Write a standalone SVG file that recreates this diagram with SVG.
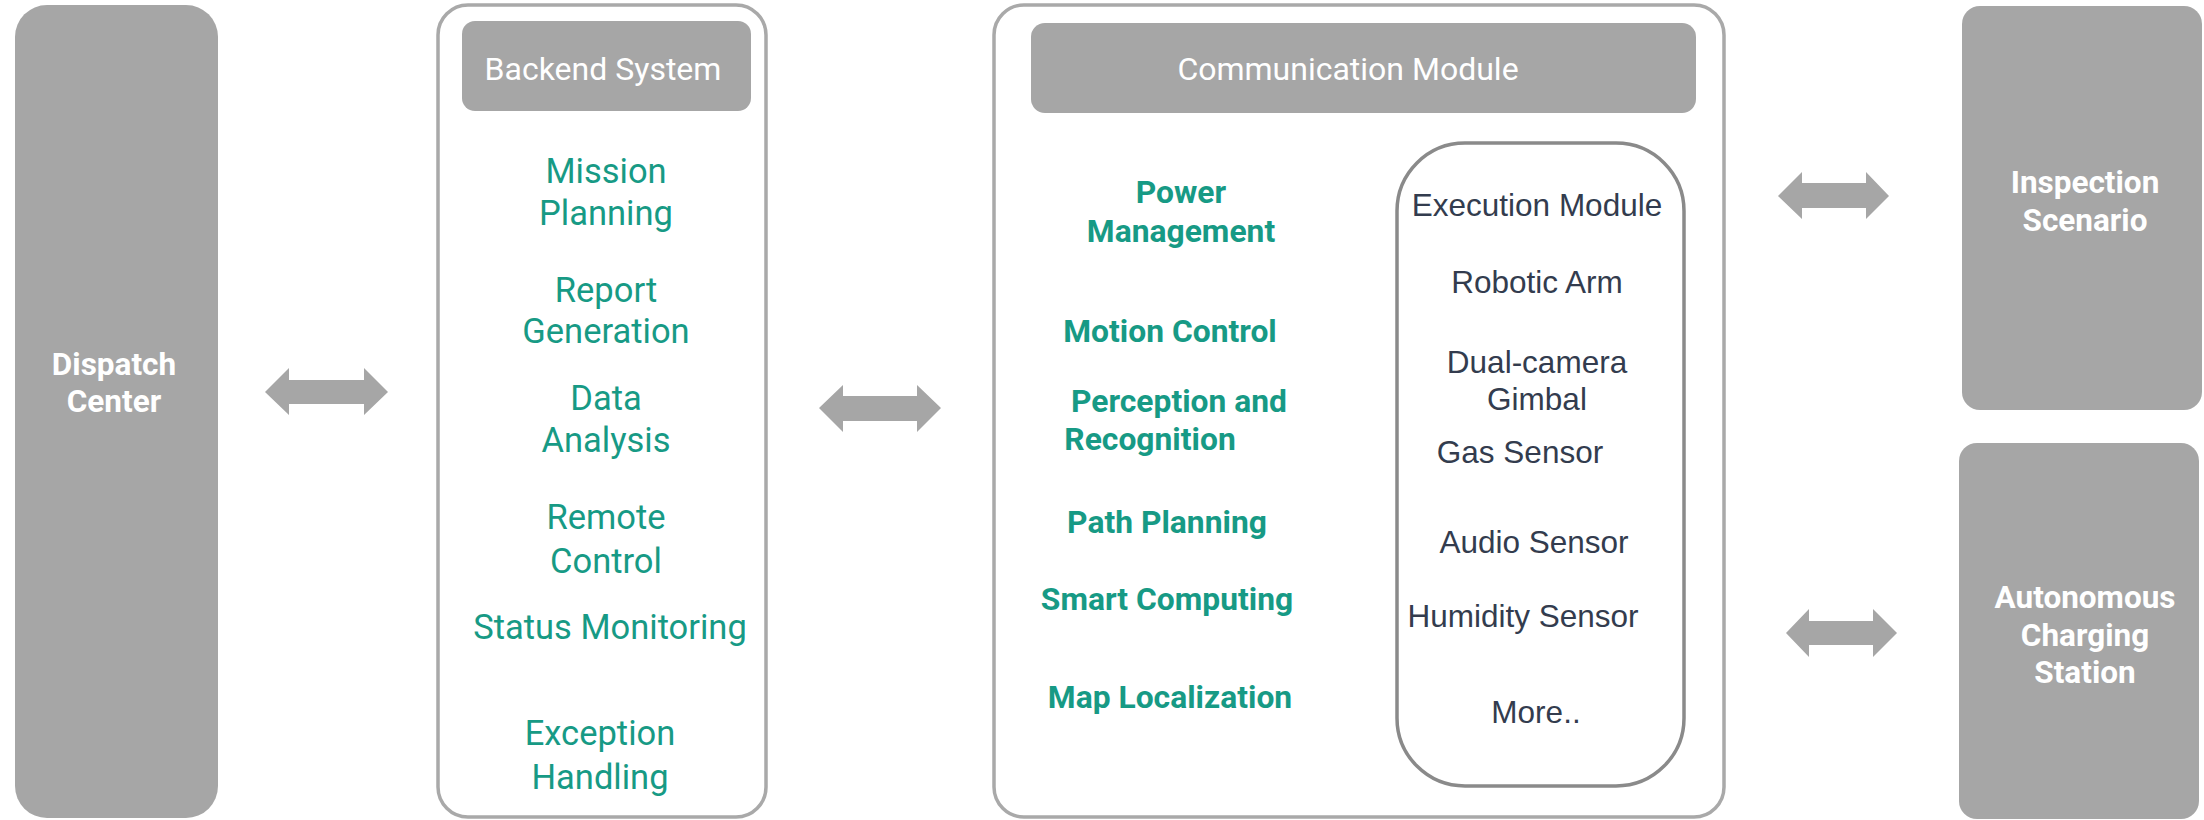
<svg xmlns="http://www.w3.org/2000/svg" width="2204" height="820" viewBox="0 0 2204 820">
<style>
.solid{fill:#a6a6a6}
.frame{fill:#fff;stroke:#a9a9a9;stroke-width:3.5}
.inner{fill:#fff;stroke:#8a8a8a;stroke-width:3.5}
.wb{font-family:Roboto,"Liberation Sans",sans-serif;font-weight:bold;font-size:31.5px;fill:#fff;text-anchor:middle}
.wr{font-family:Roboto,"Liberation Sans",sans-serif;font-size:32px;fill:#fff;text-anchor:middle}
.gr{font-family:Roboto,"Liberation Sans",sans-serif;font-size:34.5px;fill:#179a85;text-anchor:middle}
.gb{font-family:Roboto,"Liberation Sans",sans-serif;font-weight:bold;font-size:31.8px;fill:#179a85;text-anchor:middle}
.dk{font-family:"Liberation Sans",Arial,sans-serif;font-size:31.5px;fill:#333c4e;text-anchor:middle}
.arr{fill:#a6a6a6}
</style>
<rect width="2204" height="820" fill="#fff"/>

<g id="dispatch-center">
<rect class="solid" x="15" y="5" width="203" height="813" rx="32"/>
<text class="wb" x="114" y="375">Dispatch</text>
<text class="wb" x="114" y="412">Center</text>
</g>

<g id="backend-system">
<rect class="frame" x="438" y="5" width="328" height="812" rx="30"/>
<rect class="solid" x="462" y="21" width="289" height="90" rx="13"/>
<text class="wr" x="603" y="80">Backend System</text>
<text class="gr" x="606" y="183">Mission</text>
<text class="gr" x="606" y="225">Planning</text>
<text class="gr" x="606" y="302">Report</text>
<text class="gr" x="606" y="343">Generation</text>
<text class="gr" x="606" y="410">Data</text>
<text class="gr" x="606" y="452">Analysis</text>
<text class="gr" x="606" y="529">Remote</text>
<text class="gr" x="606" y="573">Control</text>
<text class="gr" x="610" y="639">Status Monitoring</text>
<text class="gr" x="600" y="745">Exception</text>
<text class="gr" x="600" y="789">Handling</text>
</g>

<g id="robot-body">
<rect class="frame" x="994" y="5" width="730" height="812" rx="30"/>
<g id="communication-module">
<rect class="solid" x="1031" y="23" width="665" height="90" rx="14"/>
<text class="wr" x="1348" y="80">Communication Module</text>
</g>
<g id="functions">
<text class="gb" x="1181" y="203">Power</text>
<text class="gb" x="1181" y="242">Management</text>
<text class="gb" x="1170" y="342">Motion Control</text>
<text class="gb" x="1179" y="412">Perception and</text>
<text class="gb" x="1150" y="450">Recognition</text>
<text class="gb" x="1167" y="533">Path Planning</text>
<text class="gb" x="1167" y="610">Smart Computing</text>
<text class="gb" x="1170" y="708">Map Localization</text>
</g>
<g id="execution-module">
<rect class="inner" x="1397" y="143" width="287" height="643" rx="68"/>
<text class="dk" x="1537" y="216">Execution Module</text>
<text class="dk" x="1537" y="293">Robotic Arm</text>
<text class="dk" x="1537" y="373">Dual-camera</text>
<text class="dk" x="1537" y="410">Gimbal</text>
<text class="dk" x="1520" y="463">Gas Sensor</text>
<text class="dk" x="1534" y="553">Audio Sensor</text>
<text class="dk" x="1523" y="627">Humidity Sensor</text>
<text class="dk" x="1536" y="723">More..</text>
</g>
</g>

<g id="inspection-scenario">
<rect class="solid" x="1962" y="6" width="240" height="404" rx="18"/>
<text class="wb" x="2085" y="193">Inspection</text>
<text class="wb" x="2085" y="231">Scenario</text>
</g>

<g id="charging-station">
<rect class="solid" x="1959" y="443" width="240" height="376" rx="18"/>
<text class="wb" x="2085" y="608">Autonomous</text>
<text class="wb" x="2085" y="646">Charging</text>
<text class="wb" x="2085" y="683">Station</text>
</g>

<g id="connectors">
<polygon class="arr" points="265,392 289,368 289,380 364,380 364,368 388,392 364,415 364,404 289,404 289,415"/>
<polygon class="arr" points="819,408 843,385 843,396 917,396 917,385 941,408 917,432 917,421 843,421 843,432"/>
<polygon class="arr" points="1778,196 1802,172 1802,183 1866,183 1866,172 1889,196 1866,219 1866,208 1802,208 1802,219"/>
<polygon class="arr" points="1786,633 1809,609 1809,621 1873,621 1873,609 1897,633 1873,657 1873,645 1809,645 1809,657"/>
</g>
</svg>
